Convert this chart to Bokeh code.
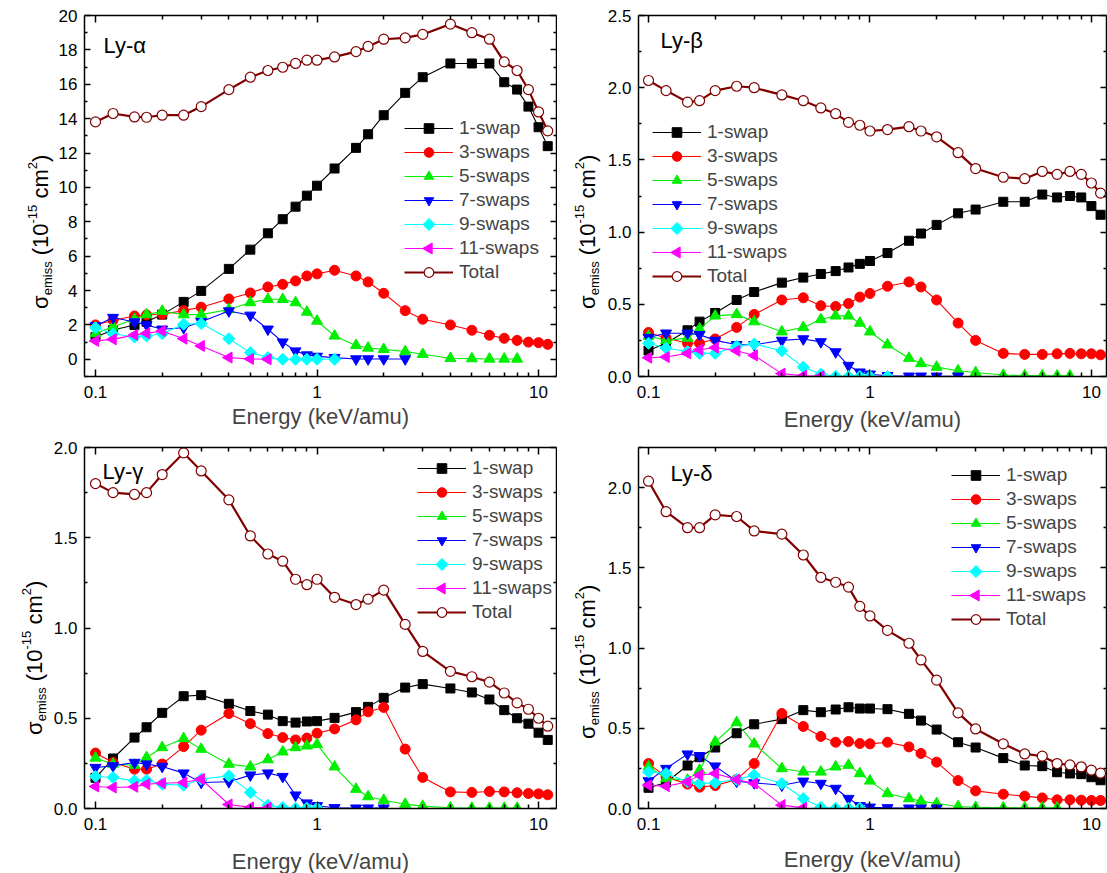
import math
from bokeh.plotting import figure
from bokeh.models import (LogAxis, LinearAxis, FixedTicker, Legend, LegendItem,
                          Label, Range1d, CustomLabelingPolicy)
from bokeh.layouts import column, row
from bokeh.embed import file_html
from bokeh.resources import INLINE
from bokeh.core.properties import value

FONT = "Liberation Sans"

# ---------------- data ----------------
energy = [0.1, 0.12, 0.15, 0.17, 0.2, 0.25, 0.3, 0.4, 0.5, 0.6, 0.7, 0.8, 0.9, 1.0,
          1.2, 1.5, 1.7, 2.0, 2.5, 3.0, 4, 5, 6, 7, 8, 9, 10, 11]

series_labels = ["1-swap", "3-swaps", "5-swaps", "7-swaps", "9-swaps", "11-swaps", "Total"]

# Ly-alpha
lya_1swap = [1.3, 1.7, 2.0, 2.19, 2.6, 3.34, 3.98, 5.26, 6.38, 7.33, 8.15, 8.88, 9.52, 10.1,
             11.1, 12.3, 13.09, 14.2, 15.5, 16.41, 17.21, 17.21, 17.21, 16.12, 15.69, 14.7, 13.5, 12.4]
lya_3swaps = [2.0, 2.27, 2.52, 2.58, 2.62, 2.83, 3.03, 3.51, 3.86, 4.21, 4.36, 4.56, 4.85, 4.97,
              5.18, 4.85, 4.5, 3.84, 2.83, 2.33, 2.0, 1.69, 1.4, 1.22, 1.1, 1.0, 0.97, 0.87]
lya_5swaps = [1.5, 1.9, 2.33, 2.6, 2.8, 2.6, 2.6, 2.9, 3.3, 3.49, 3.49, 3.3, 2.75, 2.23,
              1.36, 0.81, 0.66, 0.58, 0.45, 0.29, 0.06, 0.04, 0.02, 0.02, 0.02]
lya_7swaps = [1.94, 2.43, 2.17, 2.0, 1.75, 1.84, 2.19, 2.81, 2.56, 1.75, 1.0, 0.48, 0.25, 0.17,
              0.1, 0.02, 0.02, 0.02, 0.02]
lya_9swaps = [1.84, 1.49, 1.3, 1.36, 1.49, 2.04, 2.08, 1.2, 0.39, 0.1, 0.0, 0.0, 0.0, 0.0, 0.0]
lya_11swaps = [1.07, 1.16, 1.42, 1.51, 1.65, 1.2, 0.78, 0.1, 0.02, 0.0]
lya_total = [13.81, 14.3, 14.1, 14.08, 14.2, 14.2, 14.7, 15.69, 16.41, 16.8, 16.99, 17.21, 17.4, 17.4,
             17.59, 17.9, 18.2, 18.62, 18.7, 18.9, 19.5, 19.0, 18.62, 17.3, 16.8, 15.69, 14.39, 13.29]

# Ly-beta
lyb_1swap = [0.18, 0.23, 0.32, 0.38, 0.44, 0.53, 0.585, 0.65, 0.685, 0.71, 0.73, 0.755, 0.78, 0.80,
             0.855, 0.94, 0.99, 1.05, 1.13, 1.156, 1.21, 1.21, 1.26, 1.24, 1.25, 1.24, 1.18, 1.12]
lyb_3swaps = [0.305, 0.266, 0.23, 0.23, 0.26, 0.34, 0.43, 0.53, 0.545, 0.49, 0.485, 0.505, 0.55, 0.575,
              0.625, 0.655, 0.62, 0.53, 0.37, 0.25, 0.16, 0.153, 0.153, 0.157, 0.16, 0.157, 0.157, 0.15]
lyb_5swaps = [0.28, 0.25, 0.266, 0.33, 0.42, 0.43, 0.38, 0.31, 0.34, 0.395, 0.42, 0.42, 0.37, 0.31,
              0.22, 0.127, 0.09, 0.065, 0.04, 0.028, 0.01, 0.007, 0.005, 0.005, 0.005]
lyb_7swaps = [0.27, 0.30, 0.30, 0.29, 0.25, 0.22, 0.22, 0.25, 0.26, 0.24, 0.17, 0.076, 0.03, 0.016,
              0.005, 0.002, 0.002, 0.002, 0.002]
lyb_9swaps = [0.23, 0.197, 0.173, 0.16, 0.16, 0.21, 0.225, 0.178, 0.065, 0.016, 0.002, 0.0, 0.0, 0.0, 0.0]
lyb_11swaps = [0.13, 0.135, 0.16, 0.185, 0.2, 0.178, 0.146, 0.02, 0.005, 0.002]
lyb_total = [2.05, 1.98, 1.90, 1.91, 1.98, 2.01, 2.0, 1.95, 1.91, 1.86, 1.82, 1.76, 1.74, 1.70,
             1.71, 1.73, 1.70, 1.66, 1.55, 1.44, 1.38, 1.37, 1.42, 1.40, 1.42, 1.40, 1.34, 1.27]

# Ly-gamma
lyg_1swap = [0.17, 0.277, 0.393, 0.45, 0.53, 0.622, 0.628, 0.58, 0.54, 0.52, 0.484, 0.476, 0.482, 0.484,
             0.502, 0.534, 0.563, 0.613, 0.67, 0.689, 0.665, 0.643, 0.604, 0.545, 0.50, 0.47, 0.42, 0.38]
lyg_3swaps = [0.307, 0.255, 0.218, 0.218, 0.246, 0.343, 0.434, 0.526, 0.47, 0.415, 0.393, 0.38, 0.39, 0.417,
              0.441, 0.491, 0.536, 0.56, 0.329, 0.172, 0.092, 0.089, 0.094, 0.092, 0.087, 0.083, 0.081, 0.076]
lyg_5swaps = [0.28, 0.246, 0.24, 0.283, 0.338, 0.388, 0.329, 0.246, 0.231, 0.271, 0.314, 0.338, 0.347, 0.355,
              0.231, 0.107, 0.066, 0.046, 0.024, 0.013, 0.004, 0.002, 0.002, 0.002, 0.002]
lyg_7swaps = [0.227, 0.236, 0.255, 0.246, 0.233, 0.196, 0.144, 0.148, 0.185, 0.196, 0.177, 0.074, 0.03, 0.015,
              0.004, 0.002, 0.002, 0.002]
lyg_9swaps = [0.177, 0.172, 0.153, 0.157, 0.135, 0.129, 0.163, 0.181, 0.089, 0.018, 0.006, 0.002, 0.002, 0.002]
lyg_11swaps = [0.122, 0.116, 0.12, 0.135, 0.14, 0.144, 0.163, 0.022, 0.006, 0.004]
lyg_total = [1.80, 1.75, 1.74, 1.75, 1.85, 1.97, 1.87, 1.71, 1.51, 1.41, 1.37, 1.27, 1.24, 1.27,
             1.17, 1.13, 1.16, 1.21, 1.02, 0.87, 0.76, 0.73, 0.70, 0.64, 0.585, 0.55, 0.50, 0.456]

# Ly-delta
lyd_1swap = [0.129, 0.162, 0.268, 0.32, 0.38, 0.469, 0.525, 0.557, 0.613, 0.60, 0.617, 0.631, 0.623, 0.623,
             0.619, 0.59, 0.548, 0.492, 0.413, 0.38, 0.314, 0.268, 0.264, 0.226, 0.218, 0.214, 0.195, 0.176]
lyd_3swaps = [0.28, 0.197, 0.152, 0.133, 0.143, 0.18, 0.28, 0.592, 0.511, 0.449, 0.413, 0.417, 0.405, 0.403,
              0.413, 0.384, 0.343, 0.289, 0.174, 0.11, 0.089, 0.077, 0.066, 0.054, 0.054, 0.052, 0.05, 0.05]
lyd_5swaps = [0.26, 0.187, 0.177, 0.239, 0.415, 0.536, 0.403, 0.249, 0.228, 0.228, 0.26, 0.27, 0.218, 0.172,
              0.093, 0.062, 0.046, 0.031, 0.012, 0.008, 0.004, 0.004, 0.004, 0.004]
lyd_7swaps = [0.172, 0.249, 0.339, 0.328, 0.264, 0.17, 0.16, 0.145, 0.17, 0.156, 0.125, 0.062, 0.017, 0.008,
              0.004, 0.002, 0.002, 0.002]
lyd_9swaps = [0.228, 0.218, 0.166, 0.156, 0.16, 0.18, 0.208, 0.156, 0.062, 0.008, 0.002, 0.002, 0.002]
lyd_11swaps = [0.145, 0.139, 0.166, 0.208, 0.218, 0.18, 0.156, 0.021, 0.004]
lyd_total = [2.04, 1.85, 1.75, 1.75, 1.83, 1.82, 1.73, 1.71, 1.58, 1.44, 1.41, 1.38, 1.26, 1.20,
             1.11, 1.03, 0.926, 0.80, 0.596, 0.496, 0.403, 0.34, 0.326, 0.28, 0.272, 0.26, 0.239, 0.22]

x_major_ticks = [0.1, 1, 10]
x_minor_ticks = [0.2, 0.3, 0.4, 0.5, 0.6, 0.7, 0.8, 0.9, 2, 3, 4, 5, 6, 7, 8, 9]
x_tick_labels = ["0.1", "1", "10"]

# ---------------- styles ----------------
SWAP_STYLES = [
    dict(marker="square", color="#000000", size=9, angle=0.0),
    dict(marker="circle", color="#FF0000", size=10, angle=0.0),
    dict(marker="triangle", color="#00EE00", size=11, angle=0.0),
    dict(marker="inverted_triangle", color="#0000FF", size=11, angle=0.0),
    dict(marker="square", color="#00FFFF", size=8.5, angle=math.pi / 4),
    dict(marker="triangle", color="#FF00FF", size=11, angle=math.pi / 2),
]
TOTAL_COLOR = "#800000"

CHAR_W = {"σ": 0.60, "e": 0.556, "m": 0.833, "i": 0.222, "s": 0.5, " ": 0.278, "(": 0.333,
          ")": 0.333, "1": 0.556, "0": 0.556, "-": 0.333, "5": 0.556, "c": 0.5, "2": 0.556}

FRAME_H = 361
LEG_ITEM_H = 24
LEG_GLYPH_W = 49


def tw(s, fs):
    return sum(CHAR_W.get(c, 0.556) for c in s) * fs


def style_axis(ax, major, minor, labels, tick_in, minor_in, show_labels=True):
    ax.ticker = FixedTicker(ticks=major, minor_ticks=minor)
    ax.axis_line_color = "black"
    ax.axis_line_width = 1.5
    ax.major_tick_line_color = "black"
    ax.minor_tick_line_color = "black"
    ax.major_tick_line_width = 1.5
    ax.minor_tick_line_width = 1.5
    ax.major_tick_in = tick_in
    ax.major_tick_out = 0
    ax.minor_tick_in = minor_in
    ax.minor_tick_out = 0
    ax.major_label_overrides = {m: l for m, l in zip(major, labels)}
    if show_labels:
        ax.major_label_text_font = FONT
        ax.major_label_text_font_size = "17px"
        ax.major_label_text_color = "black"
        ax.major_label_standoff = 9
    else:
        ax.major_label_text_font_size = "1px"
        ax.major_label_text_alpha = 0.0
        ax.major_label_standoff = 0
        ax.major_label_policy = CustomLabelingPolicy(code="return new Set()")


def ylabel_fig(width, height, xb, y0):
    """Narrow strip holding the composite y-axis title sigma_emiss (10^-15 cm^2)."""
    f = figure(frame_width=width, frame_height=height, x_range=Range1d(0, width),
               y_range=Range1d(0, height), output_backend="svg", toolbar_location=None,
               x_axis_location=None, y_axis_location=None,
               min_border_left=0, min_border_right=0, min_border_top=0, min_border_bottom=0)
    f.xgrid.visible = False
    f.ygrid.visible = False
    f.outline_line_color = None
    f.border_fill_color = "white"
    # (text, font px, baseline shift, gap before)
    pieces = [("σ", 22, 0, 0), ("emiss", 13, 7, 0), ("(", 22, 0, 0.278 * 22), ("10", 22, 0, 0),
              ("-15", 13, -8, 0), ("cm", 22, 0, 0.278 * 22), ("2", 13, -8, 0), (")", 22, 0, 0)]
    y = y0
    for txt, fs, dx, gap in pieces:
        y += gap
        w = tw(txt, fs)
        # anchored at the end of each piece (text reads bottom-to-top)
        f.text(x=[xb + dx], y=[y + w], text=[txt], angle=math.pi / 2,
               text_font=value(FONT), text_font_size=value(f"{fs}px"),
               text_align="right", text_baseline="alphabetic", text_color="black")
        y += w
    return f


def make_panel(name, series, total, fw, borders, xr, yr, ymajor, yminor, ylabels,
               legend_loc, name_pos, xlab_standoff):
    bl, br, bt, bb = borders
    p = figure(frame_width=fw, frame_height=FRAME_H, x_axis_type="log",
               x_range=Range1d(*xr), y_range=Range1d(*yr),
               output_backend="svg", toolbar_location=None,
               min_border_left=bl, min_border_right=br, min_border_top=bt, min_border_bottom=bb)
    p.xgrid.visible = False
    p.ygrid.visible = False
    p.outline_line_color = None
    p.background_fill_color = "white"
    p.border_fill_color = "white"

    xa = p.xaxis[0]
    style_axis(xa, x_major_ticks, x_minor_ticks, x_tick_labels, 7, 4)
    xa.axis_label = "Energy (keV/amu)"
    xa.axis_label_text_font = FONT
    xa.axis_label_text_font_size = "22px"
    xa.axis_label_text_font_style = "normal"
    xa.axis_label_standoff = xlab_standoff
    ya = p.yaxis[0]
    style_axis(ya, ymajor, yminor, ylabels, 6, 3)
    ya.major_label_standoff = 7

    top = LogAxis()
    style_axis(top, x_major_ticks, x_minor_ticks, x_tick_labels, 7, 4, show_labels=False)
    p.add_layout(top, "above")
    right = LinearAxis()
    style_axis(right, ymajor, yminor, ylabels, 6, 3, show_labels=False)
    p.add_layout(right, "right")

    # legend geometry (frame pixels, from bottom-left)
    vx, vy = legend_loc
    n_items = len(series_labels)
    lx0, lx1 = math.log10(xr[0]), math.log10(xr[1])

    def px_to_data(sx, sy):
        return (10 ** (lx0 + sx / fw * (lx1 - lx0)),
                yr[0] + sy / FRAME_H * (yr[1] - yr[0]))

    items = []
    for k, (lab, vals, st) in enumerate(zip(series_labels[:6], series, SWAP_STYLES)):
        xs = energy[:len(vals)]
        lr = p.line(xs, vals, line_color=st["color"], line_width=1.1)
        sr = p.scatter(xs, vals, marker=st["marker"], size=st["size"], angle=st["angle"],
                       fill_color=st["color"], line_color=st["color"], line_width=1)
        if st["angle"] == 0.0:
            items.append(LegendItem(label=lab, renderers=[lr, sr]))
        else:
            # rotated marker: legend swatch drawn at the legend entry's glyph slot
            gx, gy = px_to_data(vx + LEG_GLYPH_W / 2,
                                vy + n_items * LEG_ITEM_H - LEG_ITEM_H / 2 - LEG_ITEM_H * k)
            p.scatter([gx], [gy], marker=st["marker"], size=st["size"], angle=st["angle"],
                      fill_color=st["color"], line_color=st["color"], line_width=1)
            items.append(LegendItem(label=lab, renderers=[lr]))
    xs = energy[:len(total)]
    lr = p.line(xs, total, line_color=TOTAL_COLOR, line_width=2.2)
    sr = p.scatter(xs, total, marker="circle", size=10, fill_color="white",
                   line_color=TOTAL_COLOR, line_width=1.2)
    items.append(LegendItem(label=series_labels[6], renderers=[lr, sr]))

    leg = Legend(items=items, location=legend_loc, padding=0, margin=0, spacing=0,
                 glyph_width=LEG_GLYPH_W, glyph_height=LEG_ITEM_H, label_height=LEG_ITEM_H,
                 label_standoff=6, label_text_font=FONT, label_text_font_size="19px",
                 border_line_color=None, background_fill_alpha=0.0)
    p.add_layout(leg)

    p.add_layout(Label(x=name_pos[0], y=name_pos[1], x_units="screen", y_units="screen",
                       text=name, text_font=FONT, text_font_size="22px",
                       text_baseline="middle", text_align="left", text_color="black"))
    return p


ticks_a = [0, 2, 4, 6, 8, 10, 12, 14, 16, 18, 20]
minor_a = [-1, 1, 3, 5, 7, 9, 11, 13, 15, 17, 19]
labels_a = [str(t) for t in ticks_a]
ticks_b = [0.0, 0.5, 1.0, 1.5, 2.0, 2.5]
minor_b = [0.25, 0.75, 1.25, 1.75, 2.25]
labels_b = ["0.0", "0.5", "1.0", "1.5", "2.0", "2.5"]

ROW1_H = 432
ROW2_H = 440

p1 = make_panel("Ly-α", [lya_1swap, lya_3swaps, lya_5swaps, lya_7swaps, lya_9swaps, lya_11swaps],
                lya_total, 472, (30, 1, 15, 56), (0.0892, 12.05), (-1, 20),
                ticks_a, minor_a, labels_a, (320, 92), (19, 331), 3)
p2 = make_panel("Ly-β", [lyb_1swap, lyb_3swaps, lyb_5swaps, lyb_7swaps, lyb_9swaps, lyb_11swaps],
                lyb_total, 468, (33, 1, 15, 56), (0.0901, 11.7), (0, 2.5),
                ticks_b, minor_b, labels_b, (14, 88), (22, 336), 6)
p3 = make_panel("Ly-γ", [lyg_1swap, lyg_3swaps, lyg_5swaps, lyg_7swaps, lyg_9swaps, lyg_11swaps],
                lyg_total, 472, (34, 1, 9, 70), (0.0892, 12.05), (0, 2.0),
                ticks_b[:5], minor_b[:4], labels_b[:5], (333, 184), (18, 337), 16)
p4 = make_panel("Ly-δ", [lyd_1swap, lyd_3swaps, lyd_5swaps, lyd_7swaps, lyd_9swaps, lyd_11swaps],
                lyd_total, 468, (33, 1, 13, 66), (0.0901, 11.7), (0, 2.25),
                ticks_b[:5], minor_b, labels_b[:5], (313, 177), (32, 335), 14)

# strips holding the y titles: before panels 1/3, and between the two columns
l1 = ylabel_fig(54, ROW1_H, 40, 56 + 83)
l2 = ylabel_fig(47, ROW1_H, 30, 56 + 83)
l3 = ylabel_fig(50, ROW2_H, 34, 70 + 83)
l4 = ylabel_fig(47, ROW2_H, 30, 66 + 83)

layout = column(row(l1, p1, l2, p2), row(l3, p3, l4, p4))
open("out.html", "w").write(file_html(layout, INLINE))
